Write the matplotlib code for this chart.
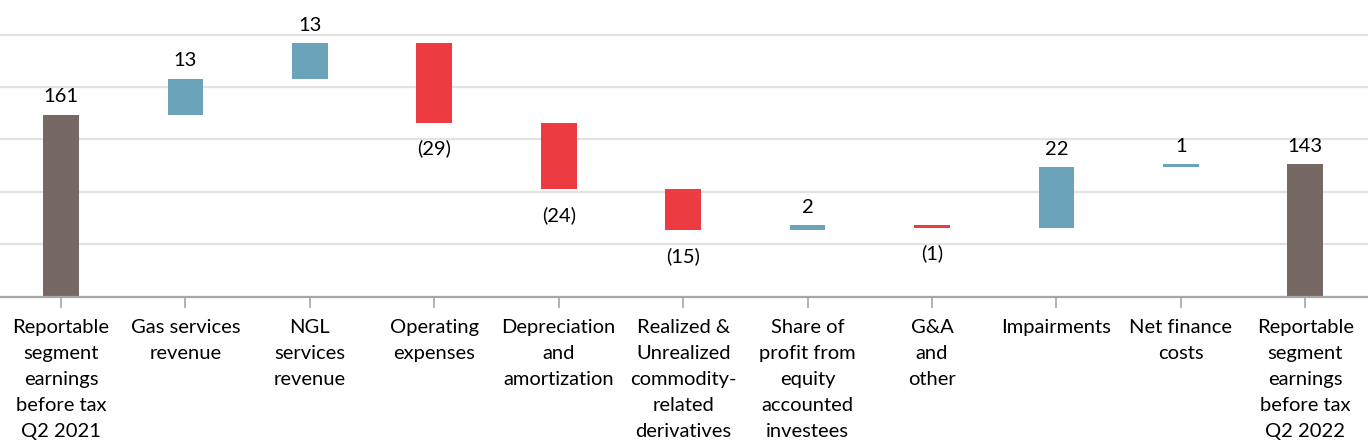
import matplotlib
matplotlib.use("Agg")
import matplotlib.pyplot as plt
import numpy as np

plt.rcParams['font.family'] = ['Lato', 'DejaVu Sans']

categories = [
    "Reportable\nsegment\nearnings\nbefore tax\nQ2 2021",
    "Gas services\nrevenue",
    "NGL\nservices\nrevenue",
    "Operating\nexpenses",
    "Depreciation\nand\namortization",
    "Realized &\nUnrealized\ncommodity-\nrelated\nderivatives",
    "Share of\nprofit from\nequity\naccounted\ninvestees",
    "G&A\nand\nother",
    "Impairments",
    "Net finance\ncosts",
    "Reportable\nsegment\nearnings\nbefore tax\nQ2 2022",
]
values = [161, 13, 13, -29, -24, -15, 2, -1, 22, 1, 143]
is_total = [True, False, False, False, False, False, False, False, False, False, True]

C_TOTAL = "#766963"
C_UP = "#6BA3BB"
C_DOWN = "#EC3C42"

fig = plt.figure(figsize=(13.68, 4.40), dpi=100)
ybot, ytop = 95, 202.5
ax = fig.add_axes([0, (440 - 296.7) / 440, 1, 296.7 / 440])
ax.set_xlim(-0.49, 10.504)
ax.set_ylim(ybot, ytop)

x = np.arange(len(categories))
width = 0.287
running = 0
for i, (v, tot) in enumerate(zip(values, is_total)):
    if tot:
        bottom, height, color = 0, v, C_TOTAL
        running = v
    else:
        if v >= 0:
            bottom, height, color = running, v, C_UP
        else:
            bottom, height, color = running + v, -v, C_DOWN
        running += v
    ax.bar(x[i], height, bottom=bottom, width=width, color=color, zorder=3)
    label = f"{v}" if v >= 0 else f"({-v})"
    if v >= 0:
        ax.annotate(label, (x[i], bottom + height), xytext=(0, 8.8), textcoords="offset points",
                    ha="center", va="baseline", fontsize=14.5, color="black", zorder=4)
    else:
        ax.annotate(label, (x[i], bottom), xytext=(0, -22.8), textcoords="offset points",
                    ha="center", va="baseline", fontsize=14.5, color="black", zorder=4)

ax.set_yticks(np.arange(ybot, 200, 19))
ax.yaxis.grid(True, color="#e2e2e2", linewidth=1.6, zorder=0)
ax.tick_params(axis="y", left=False, labelleft=False)
for s in ["left", "right", "top"]:
    ax.spines[s].set_visible(False)
ax.spines["bottom"].set_color("#a6a6a6")
ax.spines["bottom"].set_linewidth(1.6)
ax.spines["bottom"].set_zorder(5)

ax.set_xticks(x)
ax.set_xticklabels(categories, fontsize=14.5, linespacing=1.65, ha="center")
ax.tick_params(axis="x", direction="out", length=8, width=1.2, color="#a6a6a6", pad=8)

fig.savefig("out.png", dpi=100)
